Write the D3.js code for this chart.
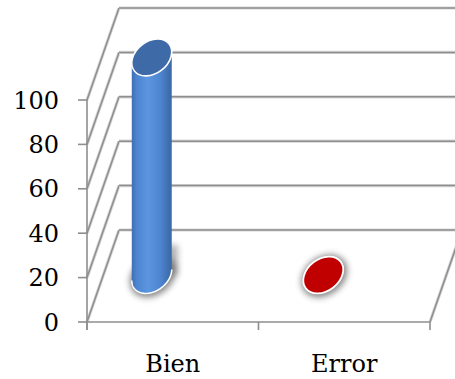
<!DOCTYPE html>
<html><head><meta charset="utf-8">
<script src="https://cdn.jsdelivr.net/npm/d3@7"></script>
<style>html,body{margin:0;padding:0;background:#fff;}svg{display:block;}</style>
</head><body>
<script>
const categories = ["Bien", "Error"];
const values = [98, 0];
const colors = ["#4f81bd", "#c00000"];
const yTicks = [0, 20, 40, 60, 80, 100];

const W = 455, H = 379;
const svg = d3.select("body").append("svg").attr("width", W).attr("height", H);
const defs = svg.append("defs");

const x = d3.scaleBand().domain(categories).range([87, 430]);
const y = d3.scaleLinear().domain([0, 100]).range([322, 100]);
const depthX = 32, depthY = -92;      // back wall offset
const barDx = -21, barDy = -47;       // bar placement inside the depth
const FONT = "DejaVu Serif";

// gradients & filters
const gBlue = defs.append("linearGradient").attr("id", "gBlue").attr("x1", 0).attr("x2", 1).attr("y1", 0).attr("y2", 0);
[["0%", "#3f6fb4"], ["12%", "#4c84d0"], ["40%", "#5b95e0"], ["70%", "#4f86d2"], ["100%", "#3a66a4"]]
  .forEach(([o, c]) => gBlue.append("stop").attr("offset", o).attr("stop-color", c));
const blur = defs.append("filter").attr("id", "blur").attr("x", "-50%").attr("y", "-50%").attr("width", "200%").attr("height", "200%");
blur.append("feGaussianBlur").attr("stdDeviation", 3);

// grid: side wall and back wall
const grid = svg.append("g");
function gline(x1, y1, x2, y2) {
  grid.append("line").attr("x1", x1).attr("y1", y1).attr("x2", x2).attr("y2", y2)
    .attr("stroke", "#d6d6d6").attr("stroke-width", 3.2);
  grid.append("line").attr("x1", x1).attr("y1", y1).attr("x2", x2).attr("y2", y2)
    .attr("stroke", "#8e8e8e").attr("stroke-width", 1.5);
}
yTicks.forEach(t => {
  const x0 = x.range()[0], y0 = y(t);
  gline(x0, y0, x0 + depthX, y0 + depthY);
  gline(x0 + depthX, y0 + depthY, W + 20, y0 + depthY);
});
// floor right edge
gline(x.range()[1], y(0), x.range()[1] + depthX, y(0) + depthY);

// axes
const axis = svg.append("g").attr("stroke", "#8e8e8e").attr("stroke-width", 1.6).attr("fill", "none");
axis.append("line").attr("x1", 87).attr("x2", 87).attr("y1", y(100)).attr("y2", y(0) + 8);
axis.append("line").attr("x1", 87).attr("x2", x.range()[1]).attr("y1", y(0)).attr("y2", y(0));
yTicks.forEach(t => axis.append("line").attr("x1", 78).attr("x2", 87).attr("y1", y(t)).attr("y2", y(t)));
const xEdges = [x.range()[0]].concat(categories.map(c => x(c) + x.bandwidth()));
xEdges.forEach(e => axis.append("line").attr("x1", e).attr("x2", e).attr("y1", y(0)).attr("y2", y(0) + 8));

// labels
svg.append("g").selectAll("text").data(yTicks).join("text")
  .attr("x", 59).attr("y", d => y(d)).attr("dy", "0.36em").attr("text-anchor", "end")
  .attr("font-family", FONT).attr("font-size", 24).attr("fill", "#000").text(d => d);
svg.append("g").selectAll("text").data(categories).join("text")
  .attr("x", d => x(d) + x.bandwidth() / 2).attr("y", 372).attr("text-anchor", "middle")
  .attr("font-family", FONT).attr("font-size", 24).attr("fill", "#000").text(d => d);

// cylinders
const ea = 22, eb = 16, th = -37.6 * Math.PI / 180;
function ePt(cx, cy, t) {
  const px = ea * Math.cos(t), py = eb * Math.sin(t);
  return [cx + px * Math.cos(th) - py * Math.sin(th), cy + px * Math.sin(th) + py * Math.cos(th)];
}
const N = 360;
const ts = d3.range(N).map(i => i / N * 2 * Math.PI);
const rel = ts.map(t => ePt(0, 0, t));
let iL = 0, iR = 0;
rel.forEach((p, i) => { if (p[0] < rel[iL][0]) iL = i; if (p[0] > rel[iR][0]) iR = i; });
function lowerArc(cx, cy) {
  const pts = [];
  let dir = 1;
  const mid1 = (iL + ((iR - iL + N) % N) / 2) % N;
  if (rel[Math.round(mid1) % N][1] < 0) dir = -1;
  let i = iL;
  while (true) {
    pts.push([cx + rel[i][0], cy + rel[i][1]]);
    if (i === iR) break;
    i = (i + dir + N) % N;
  }
  return pts;
}
const bars = svg.append("g");
categories.forEach((c, k) => {
  const cx = x(c) + x.bandwidth() / 2 + barDx;
  const yb = y(0) + barDy, yt = y(values[k]) + barDy;
  const g = bars.append("g");
  const low = lowerArc(cx, yb);
  const rot = `rotate(${th * 180 / Math.PI})`;
  // shadow halo near the floor
  g.append("ellipse").attr("rx", ea + 3).attr("ry", eb + 3)
    .attr("transform", `translate(${cx + 1},${yb + 1}) ${rot}`)
    .attr("fill", "#555").attr("opacity", 0.7).attr("filter", "url(#blur)");
  if (values[k] > 0) {
    g.append("path")
      .attr("d", `M${cx + 14},${yb - 30}L${cx + 26},${yb - 30}L${cx + 26},${yb}L${cx + 14},${yb}Z`)
      .attr("fill", "#666").attr("opacity", 0.5).attr("filter", "url(#blur)");
    const body = [[cx + rel[iL][0], yt + rel[iL][1]]].concat(low, [[cx + rel[iR][0], yt + rel[iR][1]]]);
    g.append("path").attr("d", d3.line()(body) + "Z").attr("fill", "url(#gBlue)");
    g.append("path").attr("d", d3.line()(low)).attr("fill", "none").attr("stroke", "#fff").attr("stroke-width", 1.5);
    g.append("ellipse").attr("rx", ea).attr("ry", eb)
      .attr("transform", `translate(${cx},${yt}) ${rot}`)
      .attr("fill", "#3e6aa8").attr("stroke", "#fff").attr("stroke-width", 1.6);
  } else {
    g.append("ellipse").attr("rx", ea).attr("ry", eb)
      .attr("transform", `translate(${cx},${yt}) ${rot}`)
      .attr("fill", colors[k]).attr("stroke", "#fff").attr("stroke-width", 1.8);
  }
});
</script>
</body></html>
